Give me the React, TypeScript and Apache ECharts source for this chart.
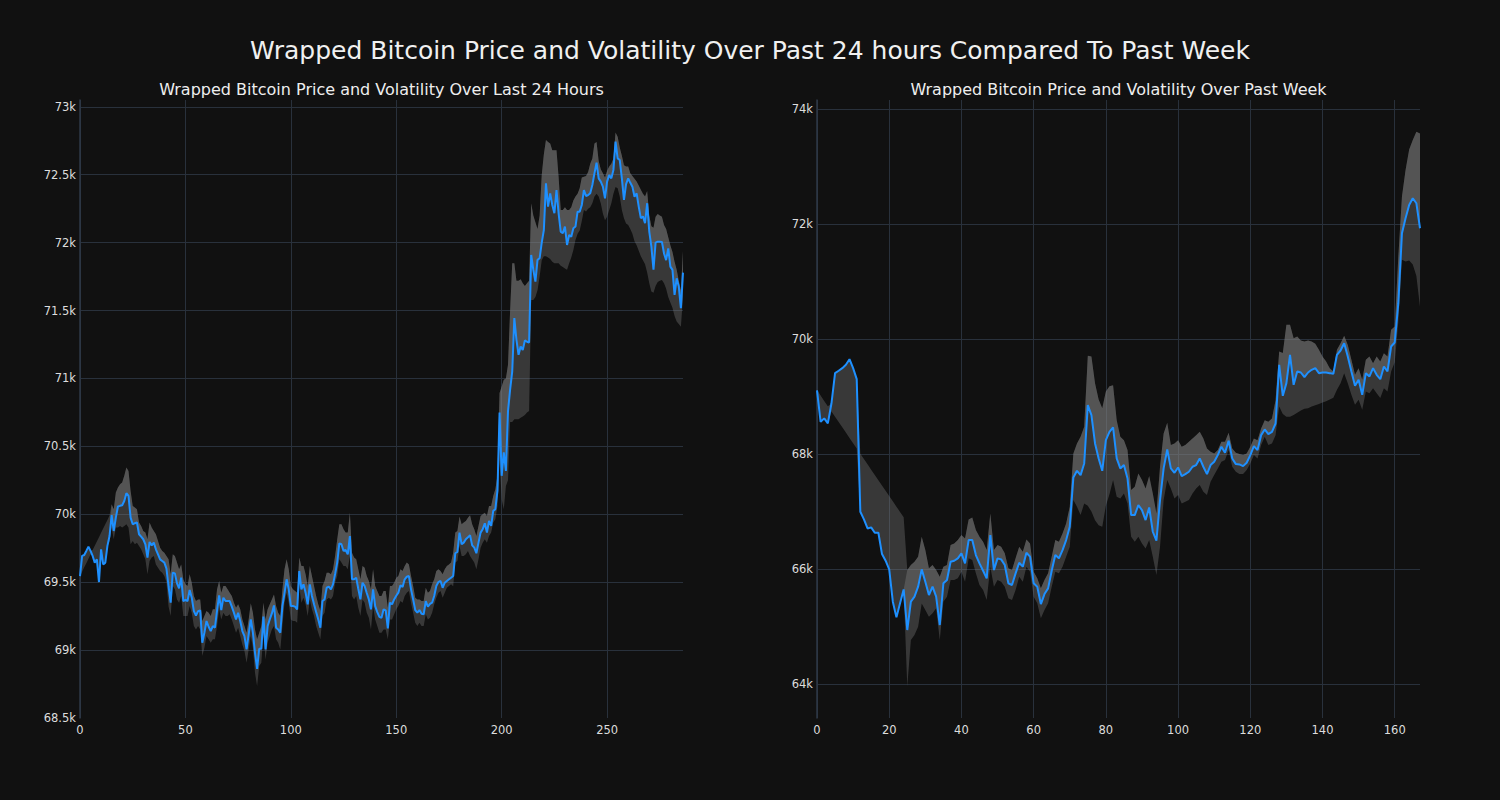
import React, { useEffect, useRef } from "react";
import * as echarts from "echarts";

const MAIN_TITLE = "Wrapped Bitcoin Price and Volatility Over Past 24 hours Compared To Past Week";
const LEFT_TITLE = "Wrapped Bitcoin Price and Volatility Over Last 24 Hours";
const RIGHT_TITLE = "Wrapped Bitcoin Price and Volatility Over Past Week";

// ---- Last 24 hours (index 0..286) ----
const dayPrice = [
  69545, 69693, 69700, 69730, 69762, 69730, 69693, 69644, 69668, 69501, 69742, 69631, 69644, 69767, 69840,
  69993, 69877, 69975, 70057, 70062, 70066, 70098, 70155, 70135, 69975,
  69926, 69934, 69939, 69853, 69835, 69816, 69779, 69681, 69796, 69771,
  69791, 69742, 69705, 69668, 69656, 69644, 69600, 69470, 69349, 69570,
  69565, 69491, 69455, 69533, 69361, 69369, 69361, 69442, 69386, 69287,
  69255, 69287, 69292, 69054, 69128, 69214, 69172, 69140, 69177, 69165,
  69290, 69403, 69295, 69386, 69361, 69361, 69361, 69320, 69275, 69226,
  69275, 69214, 69140, 69103, 69005, 69115, 69226, 69128, 68980, 68862,
  69010, 69010, 69246, 69005, 69177, 69226, 69270, 69329, 69165, 69152,
  69128, 69324, 69420, 69521, 69447, 69324, 69324, 69320, 69300, 69582,
  69447, 69484, 69423, 69337, 69484, 69398, 69337, 69280, 69226, 69165,
  69361, 69373, 69459, 69467, 69447, 69484, 69560, 69644, 69786, 69779,
  69730, 69737, 69705, 69840, 69521, 69521, 69533, 69450, 69373, 69496,
  69472, 69420, 69373, 69300, 69447, 69324, 69280, 69245, 69238, 69300,
  69292, 69160, 69349, 69337, 69373, 69400, 69423, 69477, 69464, 69521,
  69540, 69545, 69447, 69373, 69295, 69275, 69295, 69268, 69263, 69361,
  69319, 69340, 69349, 69398, 69472, 69501, 69509, 69459, 69496, 69509,
  69521, 69533, 69545, 69713, 69723, 69865, 69779, 69791, 69816, 69830,
  69845, 69771, 69754, 69713, 69791, 69865, 69890, 69934, 69865, 69951,
  69914, 70025, 70037, 70172, 70749, 70283, 70455, 70319, 70760, 70917,
  71051, 71444, 71284, 71174, 71235, 71210, 71280, 71270, 71265, 71909,
  71799, 71713, 71873, 71885, 72000, 72093, 72436, 72265, 72363, 72277,
  72216, 72387, 72216, 72081, 72069, 72118, 71983, 72056, 72044, 72105,
  72118, 72228, 72228, 72277, 72387, 72343, 72350, 72363, 72424, 72510,
  72588, 72473, 72449, 72412, 72326, 72449, 72498, 72473, 72535, 72743,
  72620, 72608, 72473, 72314, 72430, 72473, 72440, 72412, 72338, 72363,
  72265, 72180, 72193, 72143, 72290, 72081, 71970, 71800, 72000, 72007,
  72007, 72005, 71920, 71871, 71958, 71823, 71799, 71615, 71737, 71676,
  71517, 71779,
];
const dayUpper = [
  69555, 69693, 69700, 69730, 69762, 69730, 69736, 69768, 69799, 69831, 69863, 69895, 69927, 69958, 69990,
  70074, 70037, 70160, 70197, 70221, 70233, 70283, 70344, 70319, 70172,
  70061, 70049, 70037, 69939, 69914, 69877, 69865, 69816, 69939, 69902,
  69877, 69853, 69803, 69754, 69730, 69717, 69693, 69668, 69558, 69705,
  69693, 69644, 69595, 69631, 69521, 69484, 69472, 69558, 69496, 69398,
  69361, 69373, 69373, 69214, 69251, 69287, 69275, 69251, 69300, 69300,
  69447, 69509, 69423, 69472, 69472, 69447, 69423, 69398, 69349, 69312,
  69337, 69300, 69226, 69177, 69128, 69226, 69344, 69275, 69152, 69079,
  69128, 69177, 69349, 69226, 69300, 69337, 69373, 69410, 69324, 69275,
  69251, 69447, 69595, 69668, 69595, 69472, 69447, 69435, 69423, 69681,
  69619, 69619, 69558, 69472, 69619, 69545, 69472, 69398, 69337, 69287,
  69472, 69509, 69570, 69570, 69558, 69595, 69693, 69816, 69926, 69926,
  69889, 69865, 69865, 70012, 69717, 69681, 69668, 69595, 69521, 69619,
  69607, 69545, 69509, 69447, 69595, 69472, 69435, 69398, 69398, 69435,
  69435, 69312, 69472, 69472, 69496, 69533, 69545, 69595, 69582, 69619,
  69644, 69631, 69545, 69472, 69386, 69373, 69373, 69361, 69361, 69459,
  69423, 69435, 69484, 69521, 69582, 69595, 69582, 69558, 69595, 69619,
  69631, 69644, 69717, 69865, 69877, 69983, 69926, 69939, 69951, 69975,
  69993, 69926, 69889, 69840, 69914, 69988, 70000, 70012, 69988, 70061,
  70061, 70135, 70184, 70283, 70892, 70941, 70990, 71000, 71100, 71500,
  71848, 71848, 71720, 71720, 71730, 71700, 71680, 71700, 71720, 72289,
  72200, 72150, 72100, 72200, 72500, 72650, 72755, 72740, 72730, 72680,
  72680, 72680, 72485, 72240, 72240, 72260, 72240, 72240, 72260, 72310,
  72340, 72360, 72400, 72480, 72485, 72490, 72520, 72580, 72620, 72730,
  72740, 72600, 72540, 72510, 72480, 72530, 72560, 72580, 72620, 72810,
  72780, 72700, 72640, 72570, 72560, 72560, 72510, 72490, 72470, 72450,
  72420, 72390, 72360, 72340, 72380, 72200, 72120, 72110, 72190, 72210,
  72200, 72190, 72130, 72100, 72040, 71980, 71930, 71860, 71800, 71720,
  71650, 71940,
];
const dayLower = [
  69540, 69577, 69609, 69640, 69672, 69704, 69693, 69644, 69668, 69501, 69742, 69631, 69644, 69767, 69800,
  69902, 69816, 69902, 69902, 69914, 69902, 69914, 69926, 69902, 69779,
  69803, 69779, 69791, 69767, 69742, 69705, 69668, 69558, 69656, 69681,
  69693, 69631, 69607, 69582, 69570, 69545, 69500, 69320, 69251, 69472,
  69447, 69373, 69349, 69398, 69251, 69251, 69251, 69324, 69275, 69177,
  69152, 69177, 69152, 68956, 69017, 69103, 69079, 69054, 69079, 69079,
  69177, 69300, 69226, 69275, 69251, 69251, 69263, 69226, 69177, 69128,
  69165, 69103, 69042, 68993, 68907, 69005, 69103, 69017, 68833, 68735,
  68882, 68907, 69128, 68931, 69054, 69103, 69152, 69177, 69079, 69054,
  69005, 69177, 69349, 69423, 69349, 69226, 69214, 69214, 69201, 69472,
  69349, 69386, 69337, 69251, 69373, 69300, 69251, 69177, 69128, 69079,
  69251, 69275, 69373, 69386, 69373, 69398, 69496, 69545, 69668, 69644,
  69619, 69619, 69595, 69693, 69398, 69373, 69398, 69312, 69251, 69373,
  69349, 69275, 69238, 69152, 69324, 69226, 69177, 69128, 69128, 69152,
  69152, 69079, 69226, 69226, 69263, 69300, 69324, 69361, 69349, 69398,
  69423, 69435, 69349, 69275, 69201, 69177, 69201, 69177, 69177, 69263,
  69226, 69238, 69275, 69337, 69386, 69423, 69435, 69386, 69423, 69459,
  69472, 69484, 69470, 69644, 69656, 69767, 69693, 69693, 69705, 69730,
  69693, 69668, 69644, 69595, 69668, 69754, 69791, 69816, 69791, 69840,
  69865, 69939, 69963, 70061, 70405, 70111, 70037, 70209, 70250, 70680,
  70680, 70700, 70700, 70700, 70710, 70720, 70730, 70750, 70760, 71578,
  71578, 71600, 71650, 71750, 71870, 71900, 71900, 71890, 71880, 71860,
  71848, 71848, 71848, 71830, 71820, 71810, 71800, 71848, 71890, 71945,
  72020, 72065, 72090, 72160, 72240, 72230, 72250, 72260, 72290, 72340,
  72360, 72340, 72290, 72215, 72165, 72190, 72240, 72290, 72360, 72410,
  72400, 72340, 72240, 72180, 72140, 72130, 72100, 72065, 72010, 71980,
  71940, 71900, 71870, 71840, 71780, 71700, 71640, 71630, 71680, 71710,
  71720, 71725, 71700, 71660, 71600, 71560, 71520, 71460, 71420, 71400,
  71380, 71600,
];

// ---- Past week (index 0..167) ----
const weekPrice = [
  69110, 68562, 68622, 68535, 68880, 69409, 69450, 69496, 69554, 69652,
  69496, 69305, 66997, 66864, 66707, 66725, 66632, 66632, 66261, 66145,
  65994, 65432, 65159, 65403, 65646, 64939, 65432, 65519, 65693, 65994,
  65780, 65548, 65693, 65519, 65026, 65751, 65809, 66128, 66145, 66186,
  66273, 66099, 66504, 66504, 66244, 66099, 65971, 65838, 66591, 65983,
  66186, 66168, 66070, 65751, 65722, 65925, 66110, 66041, 66284, 66215,
  65751, 65693, 65391, 65565, 65664, 65971, 66244, 66186, 66330, 66504,
  66736, 67594, 67710, 67635, 67838, 68852, 68678, 68186, 67925, 67710,
  68243, 68388, 68464, 67925, 67751, 67809, 67577, 66939, 66939, 67113,
  67026, 66852, 67072, 66649, 66493, 67200, 67751, 68081, 67751, 67675,
  67768, 67617, 67652, 67693, 67780, 67809, 67925, 67780, 67652, 67809,
  67867, 67983, 68128, 68023, 68232, 67925, 67826, 67820, 67791, 67849,
  67983, 68139, 68070, 68330, 68429, 68348, 68388, 68533, 69554, 69015,
  69235, 69728, 69206, 69438, 69420, 69339, 69420, 69467, 69496, 69409,
  69420, 69420, 69409, 69397, 69728, 69803, 69930, 69699, 69438, 69188,
  69293, 69032, 69409, 69351, 69496, 69380, 69304, 69525, 69438, 69872,
  69942, 70626, 71844, 72104, 72336, 72452, 72365, 71930,
];
const weekUpper = [
  69120, 69018, 68926, 68834, 68880, 69409, 69450, 69496, 69554, 69652,
  69496, 69305, 68006, 67914, 67822, 67730, 67638, 67546, 67454, 67362,
  67270, 67178, 67086, 66994, 66902, 65983, 66070, 66128, 66215, 66562,
  66330, 66012, 66070, 65983, 65867, 66041, 66070, 66417, 66446, 66504,
  66591, 66533, 66864, 66899, 66678, 66562, 66475, 66330, 66968, 66330,
  66417, 66388, 66273, 66012, 65983, 66186, 66388, 66301, 66516, 66446,
  65954, 65838, 65664, 65809, 65925, 66214, 66504, 66475, 66620, 66794,
  67084, 68012, 68186, 68301, 68475, 69710, 69699, 69235, 68950, 68800,
  69090, 69180, 69200, 68591, 68301, 68243, 68070, 67374, 67432, 67664,
  67548, 67403, 67617, 67316, 66968, 67780, 68359, 68545, 68157, 68186,
  68243, 68128, 68157, 68214, 68272, 68330, 68388, 68272, 68099, 68041,
  68012, 68070, 68214, 68214, 68371, 68099, 68023, 68000, 67983, 68012,
  68128, 68272, 68243, 68446, 68591, 68562, 68620, 68939, 69786, 69760,
  70249, 70249, 70017, 70046, 69976, 69959, 69976, 69959, 69919, 69815,
  69699, 69612, 69496, 69438, 69815, 69930, 70058, 69900, 69641, 69380,
  69496, 69293, 69641, 69699, 69583, 69699, 69612, 69757, 69699, 70162,
  70220, 71438, 72481, 72942, 73300, 73465, 73610, 73580,
];
const weekLower = [
  69100, 68562, 68622, 68535, 68742, 68650, 68558, 68466, 68374, 68282,
  68190, 68098, 66997, 66864, 66707, 66725, 66632, 66632, 66261, 66145,
  65994, 65432, 65159, 65403, 65646, 63954, 64765, 64852, 64997, 65400,
  65287, 65171, 65229, 65316, 64765, 65432, 65519, 65809, 65809, 65840,
  65954, 65780, 66186, 66157, 65925, 65722, 65635, 65461, 66041, 65693,
  65809, 65780, 65693, 65490, 65461, 65635, 65867, 65780, 66041, 65954,
  65519, 65403, 65142, 65287, 65403, 65693, 65954, 65925, 66041, 66214,
  66388, 67200, 67084, 66939, 67142, 67100, 67000, 66850, 66760, 66736,
  67100, 67300, 67550, 67258, 67229, 67316, 67142, 66562, 66475, 66562,
  66446, 66359, 66504, 66214, 65896, 66388, 67200, 67548, 67403, 67229,
  67287, 67142, 67171, 67200, 67316, 67403, 67461, 67345, 67287, 67519,
  67635, 67751, 67867, 67896, 68070, 67780, 67693, 67652, 67652, 67722,
  67838, 67983, 67925, 68157, 68300, 68157, 68186, 68330, 68829, 68700,
  68650, 68650, 68680, 68720, 68760, 68790, 68800, 68830, 68850, 68870,
  68900, 68920, 68950, 68980, 69119, 69235, 69409, 69235, 69032, 68860,
  68945, 68770, 69090, 69060, 69148, 69060, 68975, 69148, 69090, 69438,
  69600, 70300, 71380, 71350, 71370, 71300, 71100, 70560,
];

// axis ranges and ticks
const dayXTickStep = 50;
const dayYMin = 68500;
const dayYMax = 73050;
const dayYTickStep = 500;
const weekXTickStep = 20;
const weekYMin = 63408;
const weekYMax = 74162;
const weekYTickStep = 2000;

const BG = "#111111";
const GRID = "#29313c";
const SPINE = "#2e3947";
const LABEL = "#dddddd";
const FONT = "DejaVu Sans";
const LINE = "#1e90ff";
const DARK_FILL = "rgba(128,128,128,0.36)";
const LIGHT_FILL = "rgba(128,128,128,0.40)";

function buildSeries(prefix: string, axisIndex: number, price: number[], upper: number[], lower: number[], lightFrom: number) {
  const common = {
    type: "line",
    xAxisIndex: axisIndex,
    yAxisIndex: axisIndex,
    showSymbol: false,
    symbol: "none",
    silent: true,
    stackStrategy: "all",
    lineStyle: { width: 0, opacity: 0 },
  };
  return [
    { ...common, name: prefix + "lo", stack: prefix + "dark", data: lower },
    {
      ...common,
      name: prefix + "darkband",
      stack: prefix + "dark",
      data: upper.map((u, i) => u - lower[i]),
      areaStyle: { color: DARK_FILL, opacity: 1 },
    },
    { ...common, name: prefix + "base", stack: prefix + "light", data: price },
    {
      ...common,
      name: prefix + "lightband",
      stack: prefix + "light",
      data: price.map((p, i) => (i >= lightFrom ? Math.max(0, upper[i] - p) : 0)),
      areaStyle: { color: LIGHT_FILL, opacity: 1 },
    },
    {
      type: "line",
      name: prefix + "price",
      xAxisIndex: axisIndex,
      yAxisIndex: axisIndex,
      showSymbol: false,
      symbol: "none",
      z: 5,
      data: price,
      lineStyle: { color: LINE, width: 2 },
    },
  ];
}

const kFormat = (v: number) => `${Number((v / 1000).toFixed(2))}k`;

export default function App() {
  const ref = useRef<HTMLDivElement>(null);
  useEffect(() => {
    if (!ref.current) return;
    const chart = echarts.init(ref.current, null, { renderer: "svg" });
    const axisLabel = { color: LABEL, fontSize: 11.5, fontFamily: FONT };
    const xAxisBase = (n: number, step: number, gridIndex: number) => ({
      type: "category",
      gridIndex,
      boundaryGap: false,
      data: Array.from({ length: n }, (_, i) => String(i)),
      axisLine: { show: false },
      axisTick: { show: false },
      axisLabel: { ...axisLabel, margin: 6, interval: step - 1 },
      splitLine: { show: true, interval: step - 1, lineStyle: { color: GRID, width: 1 } },
    });
    const yAxisBase = {
      type: "value",
      axisLine: { show: true, lineStyle: { color: SPINE, width: 1.5 } },
      axisTick: { show: false },
      splitLine: { show: true, lineStyle: { color: GRID, width: 1 }, showMinLine: false, showMaxLine: false },
    };
    chart.setOption({
      animation: false,
      backgroundColor: BG,
      title: [
        {
          text: MAIN_TITLE,
          left: "center",
          top: 35,
          padding: 0,
          textStyle: { color: "#f0f0f0", fontSize: 25, fontWeight: "normal", fontFamily: FONT, lineHeight: 30 },
        },
        {
          text: LEFT_TITLE,
          left: 381.5,
          textAlign: "center",
          top: 80,
          padding: 0,
          textStyle: { color: "#eeeeee", fontSize: 16, fontWeight: "normal", fontFamily: FONT, lineHeight: 19 },
        },
        {
          text: RIGHT_TITLE,
          left: 1118.5,
          textAlign: "center",
          top: 80,
          padding: 0,
          textStyle: { color: "#eeeeee", fontSize: 16, fontWeight: "normal", fontFamily: FONT, lineHeight: 19 },
        },
      ],
      grid: [
        { left: 80, top: 100, width: 603, height: 618 },
        { left: 817, top: 100, width: 603, height: 618 },
      ],
      xAxis: [
        xAxisBase(dayPrice.length, dayXTickStep, 0),
        xAxisBase(weekPrice.length, weekXTickStep, 1),
      ],
      yAxis: [
        {
          ...yAxisBase,
          gridIndex: 0,
          min: dayYMin,
          max: dayYMax,
          interval: dayYTickStep,
          axisLabel: { ...axisLabel, margin: 4, showMaxLabel: false, formatter: kFormat },
        },
        {
          ...yAxisBase,
          gridIndex: 1,
          min: weekYMin,
          max: weekYMax,
          minInterval: weekYTickStep,
          maxInterval: weekYTickStep,
          axisLabel: { ...axisLabel, margin: 4, showMinLabel: false, showMaxLabel: false, formatter: kFormat },
        },
      ],
      series: [
        ...buildSeries("d", 0, dayPrice, dayUpper, dayLower, 15),
        ...buildSeries("w", 1, weekPrice, weekUpper, weekLower, 25),
      ],
    });
    return () => chart.dispose();
  }, []);
  return (
    <div
      ref={ref}
      style={{ position: "fixed", left: 0, top: 0, width: 1500, height: 800, background: BG }}
    />
  );
}
